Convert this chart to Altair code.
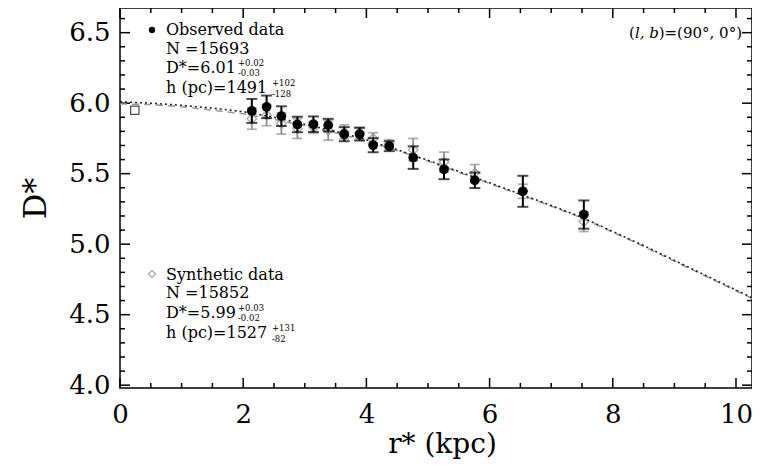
import altair as alt
import pandas as pd

# ---------------- data ----------------
obs_r = [2.14, 2.38, 2.62, 2.88, 3.14, 3.38, 3.64, 3.89, 4.11, 4.37, 4.76, 5.26, 5.76, 6.54, 7.53]
obs_D = [5.945, 5.974, 5.908, 5.849, 5.851, 5.844, 5.780, 5.780, 5.702, 5.695, 5.614, 5.531, 5.453, 5.375, 5.210]
obs_err = [0.085, 0.080, 0.070, 0.055, 0.055, 0.045, 0.050, 0.045, 0.050, 0.035, 0.080, 0.070, 0.055, 0.110, 0.100]

syn_D = [5.890, 5.915, 5.856, 5.820, 5.827, 5.808, 5.796, 5.790, 5.750, 5.710, 5.670, 5.583, 5.505, 5.375, 5.160]
syn_err = [0.075, 0.075, 0.075, 0.070, 0.040, 0.070, 0.050, 0.040, 0.040, 0.030, 0.080, 0.070, 0.060, 0.050, 0.070]

curve_r = [0, 0.5, 1, 1.5, 2, 2.5, 3, 3.5, 4, 4.5, 5, 5.5, 6, 6.5, 7, 7.5, 8, 8.5, 9, 9.5, 10, 10.26]
fit_obs = [6.010, 6.000, 5.985, 5.965, 5.940, 5.900, 5.850, 5.800, 5.740, 5.670, 5.595, 5.515, 5.435,
           5.355, 5.275, 5.190, 5.090, 4.990, 4.885, 4.780, 4.675, 4.620]
fit_syn = [5.995, 5.990, 5.975, 5.950, 5.925, 5.885, 5.840, 5.790, 5.730, 5.665, 5.590, 5.510, 5.430,
           5.350, 5.270, 5.185, 5.085, 4.985, 4.880, 4.775, 4.670, 4.615]

sun_r = [0.24]
sun_D = [5.95]

x_major = [0, 2, 4, 6, 8, 10]
x_minor = [0.5, 1, 1.5, 2.5, 3, 3.5, 4.5, 5, 5.5, 6.5, 7, 7.5, 8.5, 9, 9.5]
y_major = [4.0, 4.5, 5.0, 5.5, 6.0, 6.5]
y_minor = [4.1, 4.2, 4.3, 4.4, 4.6, 4.7, 4.8, 4.9, 5.1, 5.2, 5.3, 5.4, 5.6, 5.7, 5.8, 5.9, 6.1, 6.2, 6.3, 6.4, 6.6]

obs_text = ["Observed data", "N =15693", "D*=6.01", "h (pc)=1491"]
obs_sup = ["+0.02", "+102"]
obs_sub = ["-0.03", "-128"]
syn_text = ["Synthetic data", "N =15852", "D*=5.99", "h (pc)=1527"]
syn_sup = ["+0.03", "+131"]
syn_sub = ["-0.02", "-82"]
field_text = ["(", "l, b", ")=(90°, 0°)"]

# ---------------- chart ----------------
W, H = 632, 380
FONT = "DejaVu Serif"
GREY = "#8f8f8f"
xs = alt.Scale(domain=[0, 10.26], nice=False, zero=False)
ys = alt.Scale(domain=[3.98, 6.675], nice=False, zero=False)

xaxis = alt.Axis(values=x_major, format="d", title="r* (kpc)", ticks=False, domain=False, grid=False,
                 labelFont=FONT, labelFontSize=26, labelColor="black", labelPadding=13, labelFlush=False,
                 titleFont=FONT, titleFontSize=28, titleFontWeight="normal", titleColor="black",
                 titlePadding=3, titleX=322)
yaxis = alt.Axis(values=y_major, format=".1f", title="D*", ticks=False, domain=False, grid=False,
                 labelFont=FONT, labelFontSize=26, labelColor="black", labelPadding=10, labelFlush=False,
                 titleFont=FONT, titleFontSize=32, titleFontWeight="normal", titleColor="black",
                 titlePadding=16)

pts = pd.DataFrame({"r": obs_r, "D": obs_D, "lo": [d - e for d, e in zip(obs_D, obs_err)],
                    "hi": [d + e for d, e in zip(obs_D, obs_err)],
                    "sD": syn_D, "slo": [d - e for d, e in zip(syn_D, syn_err)],
                    "shi": [d + e for d, e in zip(syn_D, syn_err)]})
curves = pd.DataFrame({"r": curve_r, "fo": fit_obs, "fs": fit_syn})
sun = pd.DataFrame({"r": sun_r, "D": sun_D})


def X(f):
    return alt.X(f, type="quantitative", scale=xs, axis=xaxis, title="r* (kpc)")


def Y(f):
    return alt.Y(f, type="quantitative", scale=ys, axis=yaxis, title="D*")


base = alt.Chart(pts)

syn_bar = base.mark_rule(color=GREY, strokeWidth=1.8).encode(x=X("r"), y=Y("slo"), y2="shi")
syn_cap_lo = base.mark_tick(color=GREY, thickness=1.8, size=10, orient="horizontal").encode(x=X("r"), y=Y("slo"))
syn_cap_hi = base.mark_tick(color=GREY, thickness=1.8, size=10, orient="horizontal").encode(x=X("r"), y=Y("shi"))
syn_pt = base.mark_point(shape="diamond", color=GREY, strokeWidth=1.5, size=90, filled=False).encode(x=X("r"), y=Y("sD"))

line_syn = alt.Chart(curves).mark_line(color="#9a9a9a", strokeWidth=1.5, strokeDash=[7, 5]).encode(x=X("r"), y=Y("fs"))
line_obs = alt.Chart(curves).mark_line(color="#222222", strokeWidth=1.6, strokeDash=[2, 3]).encode(x=X("r"), y=Y("fo"))

obs_bar = base.mark_rule(color="black", strokeWidth=2).encode(x=X("r"), y=Y("lo"), y2="hi")
obs_cap_lo = base.mark_tick(color="black", thickness=2, size=11, orient="horizontal").encode(x=X("r"), y=Y("lo"))
obs_cap_hi = base.mark_tick(color="black", thickness=2, size=11, orient="horizontal").encode(x=X("r"), y=Y("hi"))
obs_pt = base.mark_circle(color="black", size=95, opacity=1).encode(x=X("r"), y=Y("D"))

sun_pt = alt.Chart(sun).mark_point(shape="square", color="black", strokeWidth=1.2, size=70, filled=False).encode(
    x=X("r"), y=Y("D"))

# ticks on all four sides (pointing inward)
xmaj = pd.DataFrame({"v": x_major})
xmin = pd.DataFrame({"v": x_minor})
ymaj = pd.DataFrame({"v": y_major})
ymin = pd.DataFrame({"v": y_minor})
tk = dict(color="black", strokeWidth=1.5)
ticks = [
    alt.Chart(xmaj).mark_rule(**tk).encode(x=X("v"), y=alt.value(H), y2=alt.value(H - 10)),
    alt.Chart(xmaj).mark_rule(**tk).encode(x=X("v"), y=alt.value(0), y2=alt.value(10)),
    alt.Chart(xmin).mark_rule(**tk).encode(x=X("v"), y=alt.value(H), y2=alt.value(H - 5)),
    alt.Chart(xmin).mark_rule(**tk).encode(x=X("v"), y=alt.value(0), y2=alt.value(5)),
    alt.Chart(ymaj).mark_rule(**tk).encode(y=Y("v"), x=alt.value(0), x2=alt.value(10)),
    alt.Chart(ymaj).mark_rule(**tk).encode(y=Y("v"), x=alt.value(W), x2=alt.value(W - 10)),
    alt.Chart(ymin).mark_rule(**tk).encode(y=Y("v"), x=alt.value(0), x2=alt.value(5)),
    alt.Chart(ymin).mark_rule(**tk).encode(y=Y("v"), x=alt.value(W), x2=alt.value(W - 5)),
]

dummy = pd.DataFrame({"a": [0]})


def label(text, x, y, size=16, align="left", style="normal"):
    return alt.Chart(dummy).mark_text(text=text, font=FONT, fontSize=size, align=align, baseline="middle",
                                      color="black", fontStyle=style).encode(x=alt.value(x), y=alt.value(y))


texts = []
# observed legend block
texts.append(alt.Chart(dummy).mark_circle(color="black", size=40, opacity=1).encode(x=alt.value(32), y=alt.value(22)))
for t, yy in zip(obs_text, [22, 41, 60, 80]):
    texts.append(label(t, 46, yy))
texts += [label(obs_sup[0], 118, 55, 8.5), label(obs_sub[0], 118, 65, 8.5),
          label(obs_sup[1], 152, 75, 8.5), label(obs_sub[1], 152, 86, 8.5)]
# synthetic legend block
texts.append(alt.Chart(dummy).mark_point(shape="diamond", color=GREY, size=50, strokeWidth=1.3).encode(
    x=alt.value(32), y=alt.value(266)))
for t, yy in zip(syn_text, [267, 285, 305, 325]):
    texts.append(label(t, 46, yy))
texts += [label(syn_sup[0], 118, 300, 8.5), label(syn_sub[0], 118, 310, 8.5),
          label(syn_sup[1], 152, 320, 8.5), label(syn_sub[1], 152, 331, 8.5)]
# field label
texts += [label(field_text[0], 509, 25, 15), label(field_text[1], 515, 25, 15, style="italic"),
          label(field_text[2], 622, 25, 15, align="right")]

chart = alt.layer(
    *ticks, syn_bar, syn_cap_lo, syn_cap_hi, syn_pt, line_syn, line_obs,
    obs_bar, obs_cap_lo, obs_cap_hi, obs_pt, sun_pt, *texts
).properties(
    width=W, height=H,
    padding={"left": 112, "top": 0, "right": 0, "bottom": 73},
    autosize=alt.AutoSizeParams(type="none"),
    background="white",
).configure_view(stroke="black", strokeWidth=1.5)

chart.save("out.html", embed_options={"renderer": "svg", "actions": False})
